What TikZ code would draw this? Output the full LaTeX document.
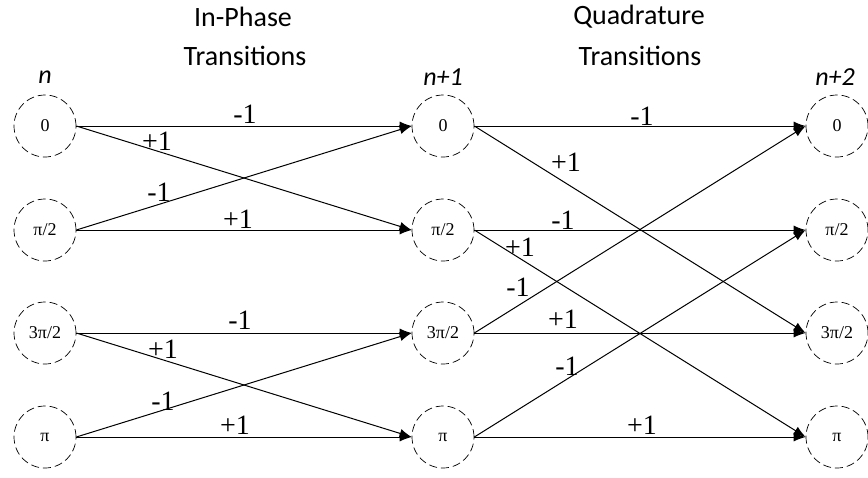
\documentclass[tikz,border=0pt]{standalone}
\usepackage{fontspec}
\setmainfont{Liberation Serif}
\newfontfamily\hdrfont{Carlito}
\usetikzlibrary{arrows.meta}
\begin{document}
\begin{tikzpicture}[x=1pt,y=-1pt,
  state/.style={circle,draw,dash pattern=on 8pt off 4pt,line width=0.7pt,minimum size=62pt,inner sep=0pt,font=\fontsize{18}{20}\selectfont},
  trans/.style={-{Latex[length=12pt,width=9pt]},line width=1pt},
  lbl/.style={font=\fontsize{28}{30}\selectfont,inner sep=0pt},
  hdr/.style={font=\hdrfont\fontsize{28}{32}\selectfont,inner sep=0pt},
  tlabel/.style={font=\hdrfont\itshape\fontsize{26}{28}\selectfont,inner sep=0pt}]
\useasboundingbox (0,0) rectangle (868,477);
% headers
\node[hdr] (h1) at (243,17) {In-Phase};
\node[hdr] (h2) at (245,56) {Transitions};
\node[hdr] (h3) at (639,17) {Quadrature};
\node[hdr] (h4) at (640,56) {Transitions};
\node[tlabel] (t0) at (45,77) {n};
\node[tlabel] (t1) at (443,77) {n+1};
\node[tlabel] (t2) at (835,77) {n+2};
% states
\node[state] (a0) at (45,126) {0};
\node[state] (a1) at (45,230) {π/2};
\node[state] (a2) at (45,333) {3π/2};
\node[state] (a3) at (45,437) {π};
\node[state] (b0) at (443,126) {0};
\node[state] (b1) at (443,230) {π/2};
\node[state] (b2) at (443,333) {3π/2};
\node[state] (b3) at (443,437) {π};
\node[state] (c0) at (837,126) {0};
\node[state] (c1) at (837,230) {π/2};
\node[state] (c2) at (837,333) {3π/2};
\node[state] (c3) at (837,437) {π};
% in-phase transitions
\draw[trans] (a0.east) -- (b0.west);
\draw[trans] (a0.east) -- (b1.west);
\draw[trans] (a1.east) -- (b0.west);
\draw[trans] (a1.east) -- (b1.west);
\draw[trans] (a2.east) -- (b2.west);
\draw[trans] (a2.east) -- (b3.west);
\draw[trans] (a3.east) -- (b2.west);
\draw[trans] (a3.east) -- (b3.west);
% quadrature transitions
\draw[trans] (b0.east) -- (c0.west);
\draw[trans] (b0.east) -- (c2.west);
\draw[trans] (b1.east) -- (c1.west);
\draw[trans] (b1.east) -- (c3.west);
\draw[trans] (b2.east) -- (c0.west);
\draw[trans] (b2.east) -- (c2.west);
\draw[trans] (b3.east) -- (c1.west);
\draw[trans] (b3.east) -- (c3.west);
% labels in-phase
\node[lbl] (l1) at (245,114) {-1};
\node[lbl] (l2) at (157,141) {+1};
\node[lbl] (l3) at (159,192) {-1};
\node[lbl] (l4) at (238,219) {+1};
\node[lbl] (l5) at (240,320) {-1};
\node[lbl] (l6) at (163,349) {+1};
\node[lbl] (l7) at (163,401) {-1};
\node[lbl] (l8) at (235,425) {+1};
% labels quadrature
\node[lbl] (m1) at (642,116) {-1};
\node[lbl] (m2) at (566,162) {+1};
\node[lbl] (m3) at (563,220) {-1};
\node[lbl] (m4) at (520,247) {+1};
\node[lbl] (m5) at (518,287) {-1};
\node[lbl] (m6) at (563,319) {+1};
\node[lbl] (m7) at (567,366) {-1};
\node[lbl] (m8) at (642,425) {+1};
\end{tikzpicture}
\end{document}
